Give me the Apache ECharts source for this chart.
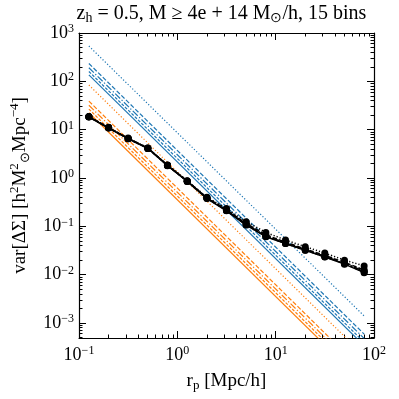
<!DOCTYPE html>
<html><head><meta charset="utf-8">
<script src="https://cdn.jsdelivr.net/npm/echarts@6/dist/echarts.min.js"></script>
<style>html,body{margin:0;padding:0;background:#fff}#c{width:399px;height:399px}</style>
</head><body><div id="c"></div>
<script>
// bin centres r_p [Mpc/h]
const rp = [0.126, 0.200, 0.316, 0.501, 0.794, 1.26, 2.00, 3.16, 5.01, 7.94, 12.6, 20.0, 31.6, 50.1, 79.4];
// measured variance (black curves with markers)
const blackDotted  = [18.8, 11.2, 6.7, 4.2, 1.86, 0.88, 0.40, 0.235, 0.125, 0.075, 0.052, 0.038, 0.028, 0.020, 0.0152];
const blackDashed  = [18.6, 11.0, 6.6, 4.2, 1.84, 0.87, 0.39, 0.222, 0.114, 0.067, 0.047, 0.034, 0.025, 0.0180, 0.0125];
const blackDashDot = [18.5, 10.9, 6.6, 4.1, 1.83, 0.86, 0.385, 0.215, 0.110, 0.064, 0.045, 0.033, 0.024, 0.0172, 0.0118];
const blackDense   = [18.4, 10.9, 6.5, 4.1, 1.82, 0.86, 0.38, 0.212, 0.108, 0.062, 0.044, 0.032, 0.0235, 0.0168, 0.0114];
const blackSolid   = [18.3, 10.8, 6.5, 4.1, 1.80, 0.85, 0.375, 0.210, 0.106, 0.061, 0.044, 0.032, 0.0233, 0.0165, 0.0110];
// straight power-law predictions: values at first and last bin
const lineR = [0.126, 79.4];
const blueDotted   = [538, 1.40e-3];
const blueDashed   = [234, 5.9e-4];
const blueDashDot  = [191, 4.8e-4];
const blueDense    = [160, 4.0e-4];
const blueSolid    = [136, 3.4e-4];
const orangeDotted   = [84, 2.1e-4];
const orangeDashed   = [39, 9.8e-5];
const orangeDashDot  = [32, 8.0e-5];
const orangeDense    = [26.7, 6.7e-5];
const orangeSolid    = [22.4, 5.6e-5];
// axis ticks (decades)
const xMajor = [-1, 0, 1, 2];
const yMajor = [-3, -2, -1, 0, 1, 2, 3];

const SERIF = 'Liberation Serif';
const styles = {
  dotted:  {type: [1.2, 2.0]},
  dashed:  {type: [4.5, 2.0]},
  dashdot: {type: [7, 2, 1.3, 2]},
  dense:   {type: [3, 1.6]},
  solid:   {type: 'solid'}
};
const minorOf = (lo, hi) => {
  const out = [];
  for (let d = Math.floor(lo); d < hi; d++) for (let k = 2; k <= 9; k++) {
    const v = d + Math.log10(k); if (v > lo && v < hi) out.push(v);
  }
  return out;
};
const XMIN = -1, XMAX = 2, YMIN = -3.31, YMAX = 3;
const toPts = (xs, ys) => xs.map((x, i) => [Math.log10(x), Math.log10(ys[i])]);

const series = [];
const addLine = (vals, color, st, z) => series.push({
  type: 'line', data: toPts(lineR, vals), showSymbol: false, symbol: 'none', z: z,
  lineStyle: {color: color, width: 1.2, type: styles[st].type}, silent: true, animation: false
});
const BLUE = '#1f77b4', ORANGE = '#ff7f0e';
addLine(blueDotted, BLUE, 'dotted', 2); addLine(blueDashed, BLUE, 'dashed', 2);
addLine(blueDashDot, BLUE, 'dashdot', 2); addLine(blueDense, BLUE, 'dense', 2); addLine(blueSolid, BLUE, 'solid', 2);
addLine(orangeDotted, ORANGE, 'dotted', 2); addLine(orangeDashed, ORANGE, 'dashed', 2);
addLine(orangeDashDot, ORANGE, 'dashdot', 2); addLine(orangeDense, ORANGE, 'dense', 2); addLine(orangeSolid, ORANGE, 'solid', 2);
const addBlack = (vals, st) => series.push({
  type: 'line', data: toPts(rp, vals), symbol: 'circle', symbolSize: 7, z: 5,
  itemStyle: {color: '#000'}, lineStyle: {color: '#000', width: 1.5, type: styles[st].type},
  silent: true, animation: false
});
addBlack(blackSolid, 'solid'); addBlack(blackDense, 'dense'); addBlack(blackDashDot, 'dashdot');
addBlack(blackDashed, 'dashed'); addBlack(blackDotted, 'dotted');

const supFmt = v => '{b|10}{s|' + String(Math.round(v)).replace('-', '\u2212') + '}';
const labRich = {b: {fontFamily: SERIF, fontSize: 18, color: '#000', lineHeight: 20},
                 s: {fontFamily: SERIF, fontSize: 12, color: '#000', verticalAlign: 'top', lineHeight: 12}};

const mkX = (pos, major, withLabel) => ({
  type: 'value', gridIndex: 0, position: pos, min: XMIN, max: XMAX,
  axisLine: {show: major, onZero: false, lineStyle: {color: '#000', width: 1.2}},
  axisTick: {show: true, inside: true, length: major ? 7 : 3.5, lineStyle: {color: '#000', width: 1},
             customValues: major ? xMajor : minorOf(XMIN, XMAX)},
  axisLabel: withLabel ? {show: true, customValues: xMajor, formatter: supFmt, rich: labRich, margin: 7} : {show: false},
  splitLine: {show: false},
  name: withLabel ? '{n|r}{sub|p}{n| [Mpc/h]}' : '', nameLocation: 'middle', nameGap: 32,
  nameTextStyle: {fontFamily: SERIF, fontSize: 19, color: '#000',
    rich: {n: {fontFamily: SERIF, fontSize: 19, color: '#000', lineHeight: 22},
           sub: {fontFamily: SERIF, fontSize: 13, color: '#000', verticalAlign: 'bottom', lineHeight: 16}}}
});
const mkY = (pos, major, withLabel) => ({
  type: 'value', gridIndex: 0, position: pos, min: YMIN, max: YMAX,
  axisLine: {show: major, onZero: false, lineStyle: {color: '#000', width: 1.2}},
  axisTick: {show: true, inside: true, length: major ? 7 : 3.5, lineStyle: {color: '#000', width: 1},
             customValues: major ? yMajor : minorOf(YMIN, YMAX)},
  axisLabel: withLabel ? {show: true, customValues: yMajor, formatter: supFmt, rich: labRich, margin: 5} : {show: false},
  splitLine: {show: false},
  name: withLabel ? '{n|var[\u0394\u03a3] [h}{s|2}{n|M}{s|2}{sub|\u2299}{n|Mpc}{s|\u22124}{n|]}' : '',
  nameLocation: 'middle', nameGap: 47, nameRotate: 90,
  nameTextStyle: {fontFamily: SERIF, fontSize: 19, color: '#000',
    rich: {n: {fontFamily: SERIF, fontSize: 19, color: '#000', lineHeight: 24},
           s: {fontFamily: SERIF, fontSize: 13, color: '#000', verticalAlign: 'top', lineHeight: 13},
           sub: {fontFamily: SERIF, fontSize: 13, color: '#000', verticalAlign: 'bottom', lineHeight: 13}}}
});

const chart = echarts.init(document.getElementById('c'), null, {renderer: 'canvas'});
chart.setOption({
  animation: false,
  backgroundColor: '#fff',
  grid: {left: 77, right: 25, top: 33, bottom: 61, containLabel: false},
  xAxis: [mkX('bottom', true, true), mkX('bottom', false, false), mkX('top', true, false), mkX('top', false, false)],
  yAxis: [mkY('left', true, true), mkY('left', false, false), mkY('right', true, false), mkY('right', false, false)],
  graphic: [{
    type: 'text', x: 221.5, y: 2, z: 10,
    style: {
      text: '{n|z}{sub|h}{n| = 0.5, M \u2265 4e + 14 M}{sub|\u2299}{n|/h, 15 bins}',
      align: 'center', textAlign: 'center', verticalAlign: 'top', textVerticalAlign: 'top',
      fill: '#000', font: '20px ' + SERIF,
      rich: {n: {fontFamily: SERIF, fontSize: 20, fill: '#000', color: '#000', lineHeight: 23},
             sub: {fontFamily: SERIF, fontSize: 14, fill: '#000', color: '#000', verticalAlign: 'bottom', lineHeight: 18}}
    }
  }],
  series: series
});
</script></body></html>
